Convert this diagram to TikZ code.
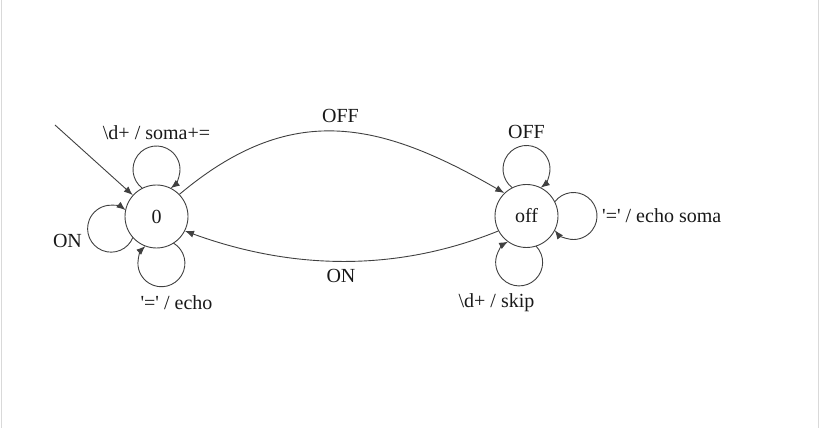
\documentclass[tikz,border=0pt]{standalone}
\usepackage{fontspec}
\setmainfont{Liberation Serif}
\usetikzlibrary{arrows.meta,calc}
\newcommand\sq{\textquotesingle}
\begin{document}
\begin{tikzpicture}[x=1pt,y=1pt,
  every node/.style={font=\fontsize{20}{24}\selectfont, text=black!90},
  state/.style={draw=black!75, circle, minimum size=63pt, inner sep=0pt, line width=0.9pt},
  trans/.style={draw=black!75, line width=0.9pt, -{Latex[length=9pt,width=7pt]}},
  lbl/.style={anchor=base, inner sep=0pt}]
\useasboundingbox (0,0) rectangle (820,428);
\draw[gray!30, line width=1pt] (1,0) -- (1,428) (818.5,0) -- (818.5,428);
\node[state] (s0) at (156.5,211.5) {0};
\node[state] (s1) at (526.5,212) {off};
\coordinate (init) at (55,303);
\draw[trans] (init) -- (s0);
% self loops of state 0
\draw[trans] ($(s0)+(90:47)+(233:23.5)$) arc[start angle=233, end angle=-53, radius=23.5];
\draw[trans] ($(s0)+(195:47)+(-22:23.5)$) arc[start angle=-22, end angle=-308, radius=23.5];
\draw[trans] ($(s0)+(276:47)+(59:23.5)$) arc[start angle=59, end angle=-227, radius=23.5];
% self loops of state off
\draw[trans] ($(s1)+(90:47)+(233:23.5)$) arc[start angle=233, end angle=-53, radius=23.5];
\draw[trans] ($(s1)+(0:47)+(143:23.5)$) arc[start angle=143, end angle=-143, radius=23.5];
\draw[trans] ($(s1)+(261:47)+(44:23.5)$) arc[start angle=44, end angle=-242, radius=23.5];
% transitions between states
\draw[trans] (s0.44) to[out=40, in=150, distance=145pt] (s1.134);
\draw[trans] (s1.208) to[out=202, in=-20, distance=112pt] (s0.333);
% labels
\node[lbl] (l0a) at (156.5,288) {\textbackslash d+ / soma+=};
\node[lbl] (l0b) at (67.5,180) {ON};
\node[lbl] (l0c) at (176.5,118) {\sq=\sq{} / echo};
\node[lbl] (lt) at (340.5,305) {OFF};
\node[lbl] (lb) at (341,145) {ON};
\node[lbl] (l1a) at (526.5,289) {OFF};
\node[lbl, anchor=base west] (l1b) at (602,205) {\sq=\sq{} / echo soma};
\node[lbl] (l1c) at (496.5,120) {\textbackslash d+ / skip};
\end{tikzpicture}
\end{document}
